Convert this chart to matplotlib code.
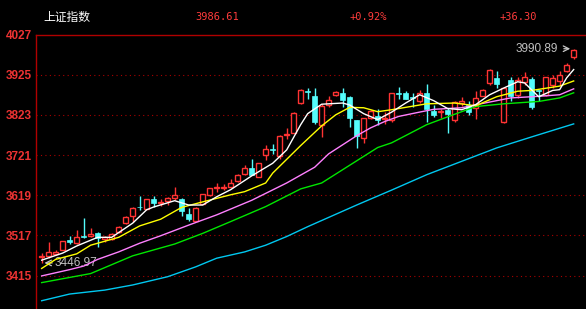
import matplotlib.pyplot as plt

# 日K线数据 (开, 高, 低, 收)
opens = [3462, 3465, 3470, 3481, 3505, 3497, 3516, 3515, 3522, 3509,
         3508, 3525, 3548, 3567, 3590, 3584, 3609, 3599, 3603, 3611,
         3609, 3571, 3554, 3597, 3620, 3638, 3638, 3641, 3654, 3673,
         3688, 3665, 3722, 3735, 3718, 3772, 3777, 3852, 3884, 3872,
         3798, 3847, 3874, 3879, 3869, 3810, 3765, 3816, 3821, 3813,
         3810, 3878, 3879, 3869, 3857, 3879, 3834, 3829, 3835, 3809,
         3854, 3848, 3840, 3872, 3904, 3917, 3804, 3912, 3874, 3906,
         3914, 3886, 3874, 3900, 3908, 3934, 3970]
highs = [3471, 3500, 3479, 3503, 3515, 3531, 3560, 3536, 3526, 3516,
         3522, 3541, 3565, 3589, 3618, 3610, 3616, 3610, 3614, 3641,
         3612, 3586, 3588, 3623, 3638, 3650, 3648, 3660, 3673, 3696,
         3711, 3701, 3747, 3749, 3771, 3789, 3829, 3888, 3891, 3890,
         3850, 3872, 3883, 3890, 3872, 3811, 3815, 3836, 3838, 3830,
         3878, 3894, 3883, 3879, 3887, 3902, 3849, 3838, 3841, 3858,
         3868, 3858, 3883, 3888, 3940, 3934, 3891, 3920, 3920, 3932,
         3918, 3887, 3920, 3923, 3934, 3955, 3990.89]
lows = [3446.97, 3460, 3467, 3480, 3495, 3494, 3511, 3513, 3488, 3500,
        3506, 3522, 3546, 3552, 3582, 3583, 3590, 3592, 3594, 3608,
        3567, 3553, 3553, 3596, 3618, 3628, 3633, 3638, 3652, 3670,
        3669, 3664, 3708, 3724, 3711, 3762, 3776, 3850, 3863, 3800,
        3767, 3843, 3870, 3843, 3793, 3738, 3751, 3813, 3798, 3800,
        3806, 3864, 3862, 3842, 3853, 3806, 3818, 3815, 3778, 3806,
        3845, 3823, 3812, 3870, 3900, 3891, 3803, 3857, 3866, 3900,
        3838, 3857, 3870, 3890, 3896, 3932, 3965]
closes = [3465, 3476, 3474, 3502, 3501, 3514, 3513, 3521, 3510, 3512,
          3520, 3539, 3563, 3587, 3588, 3609, 3599, 3602, 3613, 3620,
          3580, 3558, 3587, 3622, 3637, 3640, 3641, 3651, 3671, 3688,
          3671, 3700, 3737, 3733, 3769, 3775, 3828, 3887, 3881, 3804,
          3846, 3860, 3880, 3861, 3816, 3770, 3815, 3832, 3811, 3816,
          3878, 3875, 3864, 3867, 3879, 3838, 3823, 3832, 3826, 3856,
          3857, 3831, 3866, 3887, 3938, 3902, 3891, 3870, 3912, 3919,
          3843, 3884, 3919, 3917, 3925, 3950.31, 3986.61]

# 均线 (从图上读取的点)
ma5_idx = [0, 3, 5, 8, 10, 12, 13, 15, 16, 19, 21, 23, 25, 27, 30, 33, 35, 37, 38, 40,
           43, 44, 46, 48, 50, 52, 54, 56, 58, 60, 62, 64, 66, 68, 69, 71, 73, 74, 75, 76]
ma5_val = [3454, 3472, 3490, 3512, 3512, 3536, 3548, 3582, 3589, 3605, 3594, 3594, 3615,
           3633, 3668, 3700, 3734, 3798, 3826, 3850, 3853, 3848, 3826, 3811, 3830, 3853,
           3874, 3859, 3839, 3836, 3849, 3874, 3891, 3907, 3904, 3869, 3885, 3887, 3917, 3938]
ma10_idx = [0, 2, 5, 7, 8, 11, 14, 17, 20, 23, 27, 29, 32, 33, 35, 37, 40, 42, 44, 46,
            48, 50, 55, 59, 62, 65, 68, 70, 74, 76]
ma10_val = [3433, 3456, 3470, 3492, 3497, 3512, 3541, 3558, 3588, 3602, 3620, 3628, 3650,
            3675, 3710, 3745, 3795, 3823, 3842, 3841, 3831, 3836, 3851, 3853, 3846, 3869,
            3883, 3885, 3896, 3909]
ma20_idx = [0, 4, 6, 8, 11, 14, 17, 21, 25, 30, 35, 39, 41, 43, 45, 47, 49, 51, 54, 56,
            60, 63, 67, 71, 74, 76]
ma20_val = [3414, 3430, 3439, 3456, 3475, 3497, 3516, 3543, 3569, 3606, 3650, 3690, 3724,
            3747, 3770, 3790, 3806, 3819, 3830, 3837, 3841, 3852, 3866, 3870, 3874, 3889]
ma60_idx = [0, 7, 13, 19, 23, 27, 32, 37, 40, 44, 48, 50, 55, 58, 62, 66, 71, 74, 76]
ma60_val = [3397, 3420, 3465, 3495, 3522, 3552, 3590, 3635, 3650, 3695, 3740, 3752, 3798,
            3818, 3844, 3851, 3857, 3866, 3879]
ma120_idx = [0, 4, 9, 13, 18, 22, 25, 29, 32, 35, 38, 45, 50, 55, 60, 65, 70, 76]
ma120_val = [3351, 3368, 3378, 3391, 3412, 3437, 3459, 3475, 3492, 3514, 3539, 3594, 3632,
             3671, 3705, 3739, 3767, 3800]

yticks = [3415, 3517, 3619, 3721, 3823, 3925, 4027]

UP = '#ff3333'
DOWN = '#54fcfc'

fig = plt.figure(figsize=(5.86, 3.09), dpi=100, facecolor='black')
ax = fig.add_axes([36 / 586, 0, 1 - 36 / 586, 1 - 34.5 / 309])
ax.set_facecolor('black')

# 蜡烛: 阳线空心红, 阴线实心青
for i in range(len(closes)):
    o, h, l, c = opens[i], highs[i], lows[i], closes[i]
    top, bot = max(o, c), min(o, c)
    body = max(top - bot, 1.0)
    if c >= o:
        ax.vlines(i, top, h, color=UP, lw=1, zorder=2)
        ax.vlines(i, l, bot, color=UP, lw=1, zorder=2)
        ax.bar(i, body, bottom=bot, width=0.68, facecolor='black', edgecolor=UP, lw=1, zorder=3)
    else:
        ax.vlines(i, l, h, color=DOWN, lw=1, zorder=2)
        ax.bar(i, body, bottom=bot, width=0.74, facecolor=DOWN, edgecolor=DOWN, lw=0.5, zorder=3)

ax.plot(ma120_idx, ma120_val, color='#00c8f0', lw=1, zorder=4)
ax.plot(ma60_idx, ma60_val, color='#00e600', lw=1, zorder=4)
ax.plot(ma20_idx, ma20_val, color='#ff80ff', lw=1, zorder=4)
ax.plot(ma10_idx, ma10_val, color='#ffff00', lw=1, zorder=4)
ax.plot(ma5_idx, ma5_val, color='white', lw=1, zorder=4)

ax.set_xlim(-0.81, 77.76)
ax.set_ylim(3330, 4027)
ax.set_xticks([])
ax.set_yticks(yticks)
ax.set_yticklabels([str(v) for v in yticks], color='#ee3333', fontsize=8.5,
                   family='Liberation Sans', fontweight='bold')
ax.tick_params(axis='y', length=0, pad=3)
for v in yticks[:-1]:
    ax.axhline(v, color='#aa0000', lw=0.8, ls=(0, (1, 3)), zorder=1)
for s in ['right', 'bottom']:
    ax.spines[s].set_visible(False)
for s in ['left', 'top']:
    ax.spines[s].set_color('#b00000')
    ax.spines[s].set_linewidth(1)

# 最高/最低标注
ax.annotate('', xy=(0, lows[0]), xytext=(1.9, lows[0]),
            arrowprops=dict(arrowstyle='->', color='#c8c8c8', lw=0.9))
ax.text(1.9, lows[0], '%.2f' % lows[0], color='#c0c0c0', fontsize=8.5,
        family='Liberation Sans', va='center', ha='left')
ax.annotate('', xy=(75.9, highs[-1]), xytext=(74.2, highs[-1]),
            arrowprops=dict(arrowstyle='->', color='#c8c8c8', lw=0.9))
ax.text(73.8, highs[-1], '%.2f' % highs[-1], color='#c0c0c0', fontsize=8.5,
        family='Liberation Sans', va='center', ha='right')

# 顶部信息
chg = closes[-1] - closes[-2]
fig.text(43 / 586, 1 - 17 / 309, '上证指数', color='white', fontsize=8.5,
         family=['Noto Sans CJK SC', 'DejaVu Sans'], va='center')
fig.text(195 / 586, 1 - 17 / 309, '%.2f' % closes[-1], color='#ff3c3c', fontsize=7.5,
         family='DejaVu Sans Mono', va='center')
fig.text(350 / 586, 1 - 17 / 309, '+%.2f%%' % (chg / closes[-2] * 100), color='#ff3c3c',
         fontsize=7.5, family='DejaVu Sans Mono', va='center')
fig.text(500 / 586, 1 - 17 / 309, '+%.2f' % chg, color='#ff3c3c', fontsize=7.5,
         family='DejaVu Sans Mono', va='center')

plt.savefig('out.png', dpi=100, facecolor='black')
